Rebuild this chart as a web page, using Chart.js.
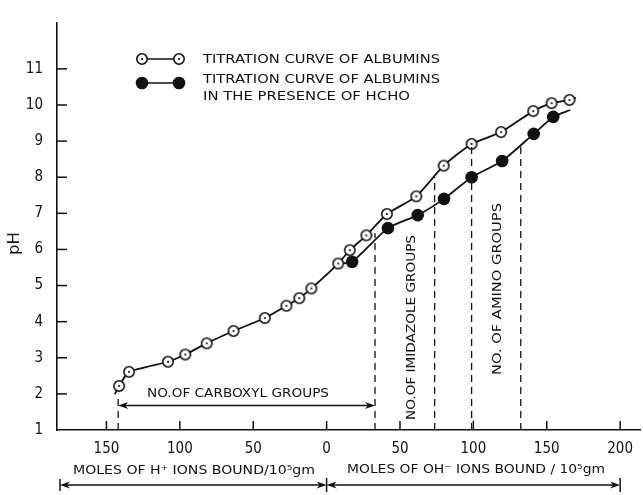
<!DOCTYPE html>
<html><head><meta charset="utf-8">
<script src="https://cdn.jsdelivr.net/npm/chart.js@4"></script>
<style>html,body{margin:0;padding:0;background:#fff}#wrap{width:643px;height:495px;position:relative}</style>
</head><body><div id="wrap"><canvas id="c"></canvas></div>
<script>
// ---- data (H+ side plotted as negative x, labels show absolute value) ----
const albuminX  = [-144.3, -141.4, -134.6, -108.1, -96.3, -81.7, -63.4, -42.1, -27.4, -18.6, -10.4, 7.9, 15.8, 27.1, 41.1, 61.1, 79.8, 98.8, 118.9, 140.8, 153.3, 165.5, 170];
const albuminPH = [1.99, 2.22, 2.61, 2.89, 3.09, 3.40, 3.74, 4.10, 4.44, 4.65, 4.92, 5.61, 5.98, 6.39, 6.98, 7.47, 8.32, 8.92, 9.25, 9.83, 10.05, 10.14, 10.2];
const albuminMarked = [0,1,1,1,1,1,1,1,1,1,1,1,1,1,1,1,1,1,1,1,1,1,0];
const hchoX  = [7.9, 17.4, 41.8, 62.1, 80.0, 98.8, 119.6, 141.1, 154.4, 166];
const hchoPH = [5.61, 5.66, 6.59, 6.95, 7.40, 8.00, 8.45, 9.20, 9.67, 9.86];
const hchoMarked = [0,1,1,1,1,1,1,1,1,0];
const groupX     = [-142, 33, 73.6, 98.8, 132.3];
const groupTopPH = [2.0, 6.45, 8.02, 8.92, 8.84];
const carboxylFrom = -142, carboxylTo = 33, carboxylPH = 1.68;
const xTicks = [-150, -100, -50, 0, 50, 100, 150, 200];
const yTicks = [1, 2, 3, 4, 5, 6, 7, 8, 9, 10, 11];
const xMin = -183.7, xMax = 213.9, yMin = 1, yMax = 12.27;
const seriesNames = ['TITRATION CURVE OF ALBUMINS', 'TITRATION CURVE OF ALBUMINS', 'IN THE PRESENCE OF HCHO'];
const hLabel = 'MOLES OF H\u207A IONS BOUND/10\u2075gm';
const ohLabel = 'MOLES OF OH\u207B IONS BOUND / 10\u2075gm';

const ink = '#111';
const FONT = "'DejaVu Sans', sans-serif";

const openMarker = (() => {
  const c = document.createElement('canvas'); c.width = c.height = 14;
  const g = c.getContext('2d');
  g.beginPath(); g.arc(7, 7, 5.2, 0, Math.PI * 2); g.fillStyle = '#fff'; g.fill();
  g.lineWidth = 1.6; g.strokeStyle = ink; g.stroke();
  g.beginPath(); g.arc(7, 7, 1.1, 0, Math.PI * 2); g.fillStyle = ink; g.fill();
  return c;
})();

function fitText(ctx, str, x, y, w, size, rot) {
  ctx.save();
  ctx.font = size + 'px ' + FONT;
  ctx.textAlign = 'left'; ctx.textBaseline = 'middle';
  const m = ctx.measureText(str).width;
  ctx.translate(x, y);
  if (rot) ctx.rotate(rot);
  ctx.scale(w / m, 1);
  ctx.fillText(str, 0, 0);
  ctx.restore();
}
function seg(ctx, x1, y1, x2, y2) { ctx.beginPath(); ctx.moveTo(x1, y1); ctx.lineTo(x2, y2); ctx.stroke(); }
function head(ctx, tx, ty, dir) {
  ctx.beginPath();
  ctx.moveTo(tx, ty);
  ctx.lineTo(tx - dir * 10, ty - 3.5);
  ctx.lineTo(tx - dir * 7, ty);
  ctx.lineTo(tx - dir * 10, ty + 3.5);
  ctx.closePath(); ctx.fill();
}

const annot = {
  id: 'annot',
  afterDatasetsDraw(chart) {
    const { ctx, scales: { x, y } } = chart;
    ctx.save();
    ctx.strokeStyle = ink; ctx.fillStyle = ink; ctx.lineCap = 'butt';
    // tick marks (inside)
    ctx.lineWidth = 1.5;
    y.ticks.forEach(t => { if (t.value > 1 && t.value <= 11) { const py = y.getPixelForValue(t.value); seg(ctx, x.left, py, x.left + 10, py); } });
    x.ticks.forEach(t => { const px = x.getPixelForValue(t.value); seg(ctx, px, y.bottom, px, y.bottom - 9); });
    // dashed group boundaries
    ctx.setLineDash([7, 5]); ctx.lineWidth = 1.3;
    groupX.forEach((gx, i) => { const px = x.getPixelForValue(gx); seg(ctx, px, y.bottom, px, y.getPixelForValue(groupTopPH[i])); });
    ctx.setLineDash([]);
    // carboxyl double arrow
    const ay = y.getPixelForValue(carboxylPH), ax1 = x.getPixelForValue(carboxylFrom), ax2 = x.getPixelForValue(carboxylTo);
    ctx.lineWidth = 1.5;
    seg(ctx, ax1 + 4, ay, ax2 - 4, ay); head(ctx, ax1, ay, -1); head(ctx, ax2, ay, 1);
    // bottom double arrows
    const by = 485, b0 = x.getPixelForValue(0), bL = x.getPixelForValue(xMin) + 3, bR = x.getPixelForValue(200);
    seg(ctx, bL + 3, by, b0 - 3, by); head(ctx, bL, by, -1); head(ctx, b0, by, 1);
    seg(ctx, b0 + 3, by, bR - 3, by); head(ctx, b0, by, -1); head(ctx, bR, by, 1);
    seg(ctx, bL, by - 6, bL, by + 6); seg(ctx, b0, by - 7, b0, by + 7); seg(ctx, bR, by - 7, bR, by + 7);
    // texts
    fitText(ctx, 'NO.OF CARBOXYL GROUPS', 147, 394, 182, 13);
    fitText(ctx, 'NO.OF IMIDAZOLE GROUPS', 412, 420, 185, 13, -Math.PI / 2);
    fitText(ctx, 'NO. OF AMINO GROUPS', 498, 375, 172, 13, -Math.PI / 2);
    fitText(ctx, hLabel, 73, 471, 242, 13);
    fitText(ctx, ohLabel, 347, 470, 258, 13);
    fitText(ctx, 'pH', 15, 255, 23, 15, -Math.PI / 2);
    // legend
    ctx.lineWidth = 1.7;
    seg(ctx, 142, 59, 179, 59);
    ctx.drawImage(openMarker, 142 - 7, 59 - 7); ctx.drawImage(openMarker, 179 - 7, 59 - 7);
    seg(ctx, 142, 83, 179, 83);
    [142, 179].forEach(px => { ctx.beginPath(); ctx.arc(px, 83, 6.3, 0, Math.PI * 2); ctx.fill(); });
    fitText(ctx, seriesNames[0], 203, 60, 237, 13);
    fitText(ctx, seriesNames[1], 203, 80, 237, 13);
    fitText(ctx, seriesNames[2], 203, 97, 207, 13);
    ctx.restore();
  }
};

new Chart(document.getElementById('c'), {
  type: 'scatter',
  data: {
    datasets: [
      {
        label: seriesNames[0],
        data: albuminX.map((v, i) => ({ x: v, y: albuminPH[i] })),
        showLine: true, borderColor: ink, borderWidth: 1.8, tension: 0.2,
        pointStyle: openMarker, pointRadius: albuminMarked.map(m => m ? 6 : 0), order: 1
      },
      {
        label: seriesNames[1] + ' ' + seriesNames[2],
        data: hchoX.map((v, i) => ({ x: v, y: hchoPH[i] })),
        showLine: true, borderColor: ink, borderWidth: 1.8, tension: 0.2,
        pointStyle: 'circle', backgroundColor: ink, pointBorderWidth: 0,
        pointRadius: hchoMarked.map(m => m ? 6.3 : 0), order: 2
      }
    ]
  },
  options: {
    responsive: true, maintainAspectRatio: false, animation: false, devicePixelRatio: 1,
    layout: { padding: { top: 13, right: 0, left: 0, bottom: 0 } },
    plugins: { legend: { display: false }, tooltip: { enabled: false } },
    scales: {
      x: {
        type: 'linear', min: xMin, max: xMax,
        afterFit: s => { s.height = 65; },
        afterBuildTicks: s => { s.ticks = xTicks.map(v => ({ value: v })); },
        grid: { display: false, drawTicks: false },
        border: { display: true, color: ink, width: 1.6 },
        ticks: { callback: v => Math.abs(v), color: ink, padding: 10, maxRotation: 0, font: { family: "'Liberation Sans Narrow', 'DejaVu Sans Condensed', 'Liberation Sans', sans-serif", size: 15 } }
      },
      y: {
        type: 'linear', min: yMin, max: yMax,
        afterFit: s => { s.width = 57; },
        afterBuildTicks: s => { s.ticks = yTicks.map(v => ({ value: v })); },
        grid: { display: false, drawTicks: false },
        border: { display: true, color: ink, width: 1.6 },
        ticks: { color: ink, padding: 14, font: { family: "'Liberation Sans Narrow', 'DejaVu Sans Condensed', 'Liberation Sans', sans-serif", size: 15 } }
      }
    }
  },
  plugins: [annot]
});
</script>
</body></html>
